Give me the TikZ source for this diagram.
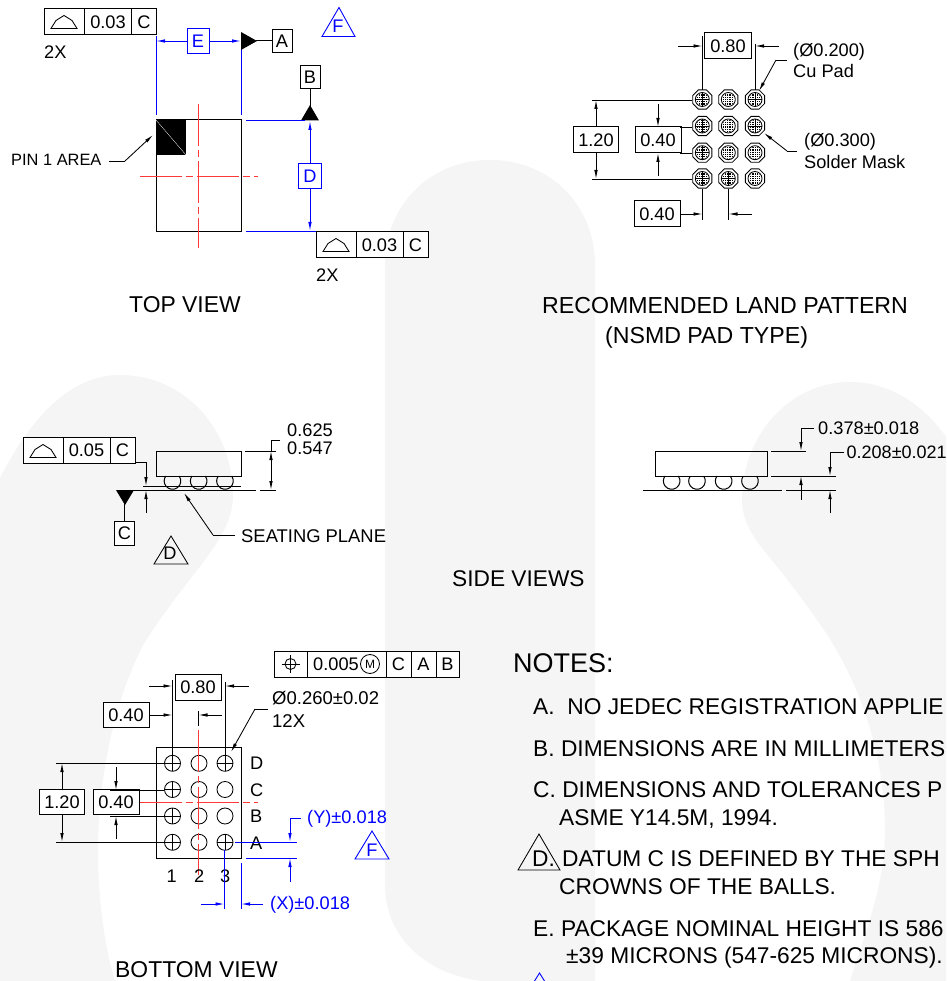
\documentclass[tikz,border=0pt]{standalone}
\usepackage{fontspec}
\setmainfont{Liberation Sans}
\usetikzlibrary{arrows.meta}
\definecolor{wm}{HTML}{F5F5F5}
\definecolor{bl}{HTML}{0000FF}
\definecolor{rd}{HTML}{FF3838}
\tikzset{
 x=1pt,y=-1pt,
 line/.style={draw=black,line width=1pt},
 blu/.style={draw=bl,line width=.95pt},
 thin line/.style={draw=black,line width=.85pt},
 dim/.style={draw=black,line width=.85pt,-{Latex[length=9pt,width=3.5pt]}},
 bdim/.style={draw=bl,line width=.95pt,-{Latex[length=9pt,width=3.5pt]}},
 box/.style={draw=black,line width=1pt,fill=white,inner sep=0pt,minimum height=26pt,font=\fontsize{18.2}{18}\selectfont,anchor=center},
 bbox/.style={box,draw=bl,text=bl},
 txt/.style={font=\fontsize{18.2}{18}\selectfont,inner sep=0pt,anchor=base west,align=left},
 big/.style={txt,font=\fontsize{22.9}{23}\selectfont},
 note/.style={txt,font=\fontsize{22.75}{23}\selectfont},
 cl/.style={draw=rd,line width=1pt,dash pattern=on 42pt off 4pt on 7pt off 4pt},
 pad/.style={draw=black,line width=.85pt},
}
\newcommand{\arcsym}[2]{\draw[thin line] (#1-13,#2+6.5) -- (#1-8,#2-1.5) -- (#1-0,#2-6.5) -- (#1+8,#2-1.5) -- (#1+13,#2+6.5) -- cycle;}
\newcommand{\ball}[2]{\draw[pad] (#1,#2) circle (8);}
\newcommand{\cross}[2]{\draw[pad] (#1-8,#2) -- (#1+8,#2) (#1,#2-8) -- (#1,#2+8);}
\newcommand{\lpad}[2]{%
 \draw[pad,fill=white] (#1+9.6,#2+4) -- (#1+4,#2+9.6) -- (#1-4,#2+9.6) -- (#1-9.6,#2+4) -- (#1-9.6,#2-4) -- (#1-4,#2-9.6) -- (#1+4,#2-9.6) -- (#1+9.6,#2-4) -- cycle;
 \draw[pad,fill=white] (#1,#2) circle (7);
 \begin{scope}
 \clip (#1,#2) circle (6);
 \foreach \k in {-5.4,-3.6,-1.8,0,1.8,3.6,5.4}{\draw[black,line width=.8pt,dash pattern=on .8pt off 1pt] (#1-7,#2+\k) -- (#1+7,#2+\k);}
 \end{scope}
}
\newcommand{\lcross}[2]{\draw[black,line width=.7pt] (#1-7,#2) -- (#1+7,#2) (#1,#2-7) -- (#1,#2+7);}
\newcommand{\sball}[2]{\draw[line] (#1+6.6,#2) arc[start angle=-37,end angle=217,radius=8.3];}
\begin{document}
\begin{tikzpicture}
\useasboundingbox (0,0) rectangle (946,981);
% watermark
\fill[white] (0,0) rectangle (946,981);
\fill[wm] (385,265) .. controls (385,205) and (430,160) .. (490,160) .. controls (550,160) and (595,205) .. (595,265) -- (595,981) -- (482,981) .. controls (430,975) and (385,940) .. (385,885) -- cycle;
\fill[wm] (0,981) -- (0,478) .. controls (35,410) and (75,375) .. (120,375) .. controls (185,375) and (233,430) .. (233,495) .. controls (233,540) and (190,570) .. (143,645) .. controls (110,710) and (98,790) .. (98,850) .. controls (98,900) and (105,950) .. (115,981) -- cycle;
\fill[wm] (946,981) -- (850,981) .. controls (870,920) and (885,880) .. (885,830) .. controls (885,740) and (850,665) .. (817,620) .. controls (800,595) and (780,570) .. (762,548) .. controls (748,530) and (742,515) .. (742,500) .. controls (742,435) and (790,382) .. (850,382) .. controls (885,382) and (920,400) .. (946,437) -- cycle;
% TOP VIEW
\draw[line] (156,120) rectangle (241,231.5);
\fill[black] (156,120) rectangle (186,155);
\draw[white,line width=.3pt] (156,120) -- (186,155);
\draw[cl] (198.5,104) -- (198.5,248);
\draw[cl,line width=1.2pt] (140,176.4) -- (258,176.4);
\node[box,minimum width=40pt] (f1a) at (64.5,22) {};
\node[box,minimum width=47pt] (f1b) at (108,22) {0.03};
\node[box,minimum width=25pt] (f1c) at (144,22) {C};
\arcsym{64}{22}
\node[txt] (t2x) at (44,59) {2X};
\draw[blu] (156,36) -- (156,115);
\draw[blu] (241,41) -- (241,115);
\node[bbox,minimum width=22pt,minimum height=25pt] (e) at (198,41) {E};
\draw[bdim] (e) -- (156,41);
\draw[bdim] (e) -- (241,41);
\fill[black] (241,32) -- (257,41) -- (241,50) -- cycle;
\node[box,minimum width=20pt,minimum height=23pt] (a) at (282,41) {A};
\draw[line] (256,41) -- (a);
\draw[bl,line width=.9pt] (322,36.5) -- (339,7.5) -- (355,36.5) -- cycle;
\node[font=\fontsize{18.2}{18}\selectfont,text=bl,inner sep=0pt] (fa) at (338,26) {F};
\node[box,minimum width=20pt,minimum height=23pt] (b) at (310,77.5) {B};
\draw[line] (b) -- (310,110);
\fill[black] (301,120.5) -- (310,105) -- (319,120.5) -- cycle;
\draw[blu] (246,120) -- (305,120);
\draw[blu] (246,231.5) -- (316,231.5);
\node[bbox,minimum width=23pt,minimum height=25pt] (d) at (310,176) {D};
\draw[bdim] (d) -- (310,121);
\draw[bdim] (d) -- (310,231);
\node[box,minimum width=40pt] (f2a) at (336,245) {};
\node[box,minimum width=47pt] (f2b) at (379.5,245) {0.03};
\node[box,minimum width=25pt] (f2c) at (415.5,245) {C};
\arcsym{336}{245}
\node[txt] (t2y) at (316,281) {2X};
\node[txt,font=\fontsize{16.4}{16}\selectfont] (pin) at (11,166) {PIN 1 AREA};
\coordinate (pk) at (125,161);
\draw[thin line] (109,161) -- (pk);
\draw[dim] (pk) -- (153,135);
\node[big] (tv) at (129,312.5) {TOP VIEW};
% LAND PATTERN
\foreach \x in {702.3,728.3,755}{\foreach \y in {99.5,126,152.7,178.5}{\lpad{\x}{\y}}}
\foreach \x/\y in {702.3/99.5,755/99.5,702.3/126,755/126,702.3/152.7,702.3/178.5,728.3/178.5}{\lcross{\x}{\y}}
\node[box,minimum width=47pt] (l80) at (728,46) {0.80};
\draw[thin line] (702.5,36) -- (702.5,90) (755,44) -- (755,90);
\draw[dim] (678,46) -- (702.5,46);
\draw[dim] (779,46) -- (755,46);
\node[txt] at (793,57) {(Ø0.200)};
\node[txt] at (793,78) {Cu Pad};
\draw[thin line] (787,60) -- (776,60);
\draw[dim] (776,60) -- (759,91);
\node[txt] at (804,147) {(Ø0.300)};
\node[txt] at (804,169) {Solder Mask};
\draw[thin line] (797,151) -- (787,151);
\draw[dim] (787,151) -- (764,133);
\draw[thin line] (592,100) -- (692,100) (592,179) -- (692,179);
\node[box,minimum width=45pt] (l120) at (596,140) {1.20};
\draw[dim] (l120) -- (596,100);
\draw[dim] (l120) -- (596,179);
\node[box,minimum width=46pt] (l40) at (658,140) {0.40};
\draw[thin line] (680,127) -- (692,127) (680,153) -- (692,153);
\draw[dim] (658,104) -- (658,127);
\draw[dim] (658,176) -- (658,153);
\node[box,minimum width=46pt] (l40b) at (657,214) {0.40};
\draw[thin line] (702.5,189) -- (702.5,220) (728.5,189) -- (728.5,220);
\draw[dim] (l40b) -- (702.5,214);
\draw[dim] (752,214) -- (728.5,214);
\node[txt,font=\fontsize{23.15}{23}\selectfont] at (542,313.5) {RECOMMENDED LAND PATTERN};
\node[txt,font=\fontsize{23.15}{23}\selectfont] at (605,343.5) {(NSMD PAD TYPE)};
% SIDE LEFT
\node[box,minimum width=40pt] (s1a) at (43,450) {};
\node[box,minimum width=47pt] (s1b) at (86.5,450) {0.05};
\node[box,minimum width=25pt] (s1c) at (122.5,450) {C};
\arcsym{43}{451}
\draw[line] (156,451) rectangle (241,476);
\sball{172.5}{476}\sball{198.7}{476}\sball{225}{476}
\draw[line] (143,486) -- (241,486);
\draw[line] (133,490) -- (256,490);
\draw[thin line] (135,462) -- (146,462);
\draw[dim] (146,462) -- (146,486);
\draw[dim] (146,513) -- (146,490);
\fill[black] (116,490) -- (134,490) -- (125,505) -- cycle;
\node[box,minimum width=20pt,minimum height=24pt] (c) at (124.5,533) {C};
\draw[line] (c) -- (124.5,500);
\node[inner sep=0pt,font=\fontsize{18.2}{18}\selectfont] (dt) at (170,553) {D};
\draw[thin line] (154,564) -- (171,536) -- (188,564) -- cycle;
\draw[thin line] (245,451) -- (276,451) (260,490) -- (276,490);
\draw[thin line] (280,440) -- (271,440) -- (271,451);
\draw[dim] (271,470) -- (271,451);
\draw[dim] (271,470) -- (271,490);
\node[txt] at (287,436.5) {0.625};
\node[txt] at (287,454.5) {0.547};
\draw[thin line] (235,535) -- (213,535);
\draw[dim] (213,535) -- (184,493);
\node[txt,font=\fontsize{18.4}{18}\selectfont] at (241,542.5) {SEATING PLANE};
% SIDE RIGHT
\draw[line] (655,451) rectangle (767,476);
\sball{671.7}{476}\sball{697}{476}\sball{723.7}{476}\sball{750}{476}
\draw[line] (643,490) -- (782,490);
\draw[thin line] (771,451) -- (806,451);
\draw[line] (771,476) -- (836,476);
\draw[thin line] (786,490) -- (836,490);
\draw[dim] (814,428) -- (801,428) -- (801,451);
\draw[dim] (801,500) -- (801,476);
\draw[dim] (844,452) -- (830,452) -- (830,476);
\draw[dim] (830,513) -- (830,490);
\node[txt] at (818,434.5) {0.378±0.018};
\node[txt,font=\fontsize{18}{18}\selectfont] at (846.5,458.5) {0.208±0.021};
\node[txt,font=\fontsize{22.7}{23}\selectfont] at (452,586.5) {SIDE VIEWS};
% BOTTOM
\draw[line] (156,747) rectangle (241.5,858);
\foreach \x in {172.5,199,225}{\foreach \y in {763.3,789.5,816,842.3}{\ball{\x}{\y}}}
\foreach \x/\y in {172.5/763.3,172.5/789.5,172.5/816,172.5/842.3,225/763.3,225/842.3}{\cross{\x}{\y}}
\draw[cl] (198.5,730) -- (198.5,875);
\draw[cl] (140,802.5) -- (258,802.5);
\node[box,minimum width=33pt] (h1) at (290.5,664) {};
\draw[thin line] (290.5,655) -- (290.5,673) (281.5,664) -- (299.5,664);
\draw[thin line] (290.5,664) circle (5.5);
\node[box,minimum width=79pt] (h2) at (346.5,664) {};
\node[txt] (h2t) at (313,670.5) {0.005};
\draw[thin line] (370,664) circle (9.5);
\node[font=\fontsize{12}{12}\selectfont,inner sep=0pt] (hm) at (370,664) {M};
\node[box,minimum width=25pt] (h3) at (398.5,664) {C};
\node[box,minimum width=25pt] (h4) at (423.5,664) {A};
\node[box,minimum width=23pt] (h5) at (447.5,664) {B};
\node[box,minimum width=46pt] (b80) at (198,687) {0.80};
\draw[thin line] (172.5,680) -- (172.5,755) (225,682) -- (225,755);
\draw[dim] (149,686) -- (172.5,686);
\draw[dim] (249,686) -- (225,686);
\node[box,minimum width=46pt,minimum height=25pt] (b40) at (126,715) {0.40};
\draw[dim] (b40) -- (172.5,715);
\draw[thin line] (198.5,711) -- (198.5,726);
\draw[dim] (222,715) -- (198.5,715);
\node[txt,font=\fontsize{18.5}{18}\selectfont] at (272,704.5) {Ø0.260±0.02};
\node[txt,font=\fontsize{18.5}{18}\selectfont] at (272,727) {12X};
\draw[thin line] (268,709) -- (255,709);
\draw[dim] (255,709) -- (231,752);
\node[txt] at (250,769) {D};
\node[txt] at (250,796) {C};
\node[txt] at (250,822) {B};
\node[txt] at (250,849) {A};
\node[txt] at (166.5,882) {1};
\node[txt] at (194,882) {2};
\node[txt] at (220,882) {3};
\draw[thin line] (56,763) -- (164,763) (56,842) -- (164,842);
\node[box,minimum width=45pt,minimum height=25pt] (b120) at (62,802) {1.20};
\draw[dim] (b120) -- (62,763);
\draw[dim] (b120) -- (62,842);
\node[box,minimum width=46pt,minimum height=25pt] (b40b) at (116,802) {0.40};
\draw[thin line] (110,790) -- (164,790) (110,816) -- (164,816);
\draw[dim] (116,767) -- (116,790);
\draw[dim] (116,839) -- (116,816);
% blue dims
\draw[blu] (235,842) -- (297,842);
\draw[blu] (246,858) -- (297,858);
\draw[blu] (224.5,850) -- (224.5,909);
\draw[blu] (241,863) -- (241,909);
\draw[bdim] (301,818) -- (290,818) -- (290,842);
\draw[bdim] (290,882) -- (290,858);
\draw[bdim] (201,904) -- (224.5,904);
\draw[bdim] (263,904) -- (241,904);
\node[txt,text=bl] at (307,823) {(Y)±0.018};
\node[txt,text=bl] at (270,909) {(X)±0.018};
\draw[bl,line width=.9pt] (355,859) -- (372,831) -- (389,859) -- cycle;
\node[font=\fontsize{18.2}{18}\selectfont,text=bl,inner sep=0pt] (ff) at (372,850) {F};
\node[big] at (115,977) {BOTTOM VIEW};
% NOTES
\node[txt,font=\fontsize{27}{27}\selectfont] at (513,672.5) {NOTES:};
\node[note] at (533,714) {A.\ \ NO JEDEC REGISTRATION APPLIE};
\node[note] at (533,756) {B. DIMENSIONS ARE IN MILLIMETERS};
\node[note] at (533,797) {C. DIMENSIONS AND TOLERANCES P};
\node[note] at (559,825) {ASME Y14.5M, 1994.};
\node[note] at (532,866) {D.};
\node[note] at (562,866) {DATUM C IS DEFINED BY THE SPH};
\node[note] at (559,894) {CROWNS OF THE BALLS.};
\node[note] at (533,936) {E. PACKAGE NOMINAL HEIGHT IS 586};
\node[note] at (566,963) {±39 MICRONS (547-625 MICRONS).};
\draw[thin line] (518,870) -- (539,834) -- (560,870) -- cycle;
\draw[bl,line width=.9pt] (534.5,981) -- (539.5,973) -- (544.5,981);
\end{tikzpicture}
\end{document}
